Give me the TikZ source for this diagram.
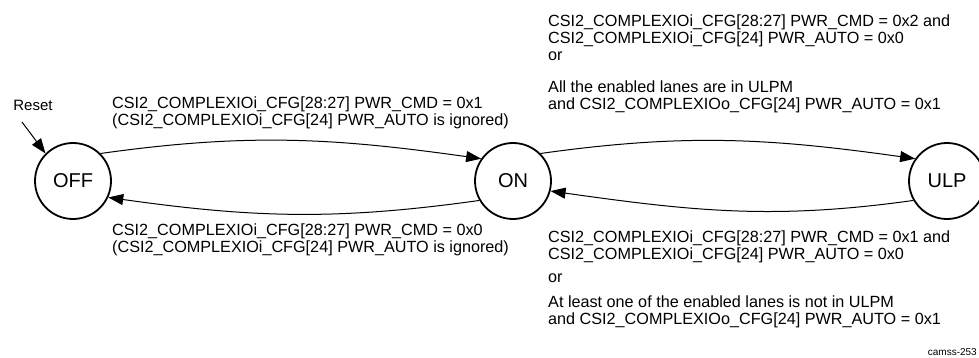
\documentclass[tikz,border=0pt]{standalone}
\usepackage{fontspec}
\setmainfont{Liberation Sans}
\usetikzlibrary{arrows.meta}

\begin{document}
\begin{tikzpicture}[x=1pt,y=-1pt, >={Triangle[length=15pt,width=11pt]},
  state/.style={draw,circle,line width=1.8pt,minimum size=76pt,inner sep=0pt,
  font=\fontsize{20}{22}\selectfont},
  cond/.style={align=left,inner sep=0pt,anchor=north west,font=\fontsize{16.2}{17}\selectfont},
  trans/.style={->,line width=1pt}]
\useasboundingbox (0,0) rectangle (979,358);
\node[state] (off) at (73,181) {OFF};
\node[state] (on) at (513,181) {ON};
\node[state] (ulp) at (947,181) {ULP};
\node[font=\fontsize{15}{17}\selectfont,inner sep=0pt] (reset) at (33,105) {Reset};
\coordinate (rst) at (22,122);
\draw[trans] (rst) -- (off.135);
% transitions
\draw[trans] (off.45) to[out=8,in=172] (on.145);
\draw[trans] (on.210) to[out=188,in=-8] (off.-25);
\draw[trans] (on.45) to[out=8,in=172] (ulp.145);
\draw[trans] (ulp.210) to[out=188,in=-8] (on.-15);
% conditions
\node[cond] (c1) at (112,97) {CSI2\_COMPLEXIOi\_CFG[28:27] PWR\_CMD = 0x1\\
  (CSI2\_COMPLEXIOi\_CFG[24] PWR\_AUTO is ignored)};
\node[cond] (c2) at (112,224) {CSI2\_COMPLEXIOi\_CFG[28:27] PWR\_CMD = 0x0\\
  (CSI2\_COMPLEXIOi\_CFG[24] PWR\_AUTO is ignored)};
\node[cond] (c3) at (548,15) {CSI2\_COMPLEXIOi\_CFG[28:27] PWR\_CMD = 0x2 and\\
  CSI2\_COMPLEXIOi\_CFG[24] PWR\_AUTO = 0x0\\
  or\\[15pt]
  All the enabled lanes are in ULPM\\
  and CSI2\_COMPLEXIOo\_CFG[24] PWR\_AUTO = 0x1};
\node[cond] (c4) at (548,231) {CSI2\_COMPLEXIOi\_CFG[28:27] PWR\_CMD = 0x1 and\\
  CSI2\_COMPLEXIOi\_CFG[24] PWR\_AUTO = 0x0\\[6pt]
  or\\[7.5pt]
  At least one of the enabled lanes is not in ULPM\\
  and CSI2\_COMPLEXIOo\_CFG[24] PWR\_AUTO = 0x1};
\node[font=\fontsize{10}{12}\selectfont,inner sep=0pt,anchor=base east] (id) at (977,355) {camss-253};
\end{tikzpicture}
\end{document}
